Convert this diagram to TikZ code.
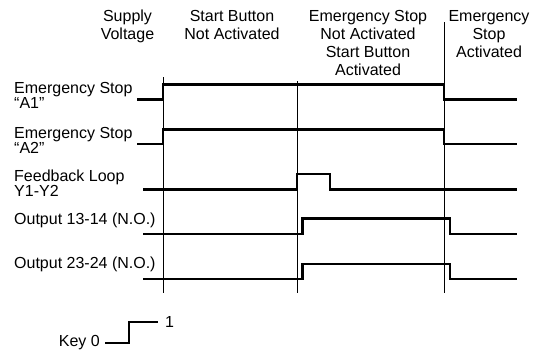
\documentclass[tikz,border=0pt]{standalone}
\usepackage{fontspec}
\setmainfont{Liberation Sans}
\begin{document}
\begin{tikzpicture}[x=1pt,y=-1pt,
  lbl/.style={inner sep=0pt, font=\fontsize{16}{15}\selectfont, align=left, anchor=north west},
  hdr/.style={inner sep=0pt, font=\fontsize{16}{18}\selectfont, align=center, anchor=north},
  txt/.style={inner sep=0pt, font=\fontsize{16}{18}\selectfont},
  sig/.style={line width=2.8pt, line join=miter, line cap=butt},
  gridline/.style={line width=0.8pt}]
\useasboundingbox (0,0) rectangle (543,349);

% header
\node[hdr] (h1) at (127.5,10) {Supply\\Voltage};
\node[hdr] (h2) at (232,10) {Start Button\\Not Activated};
\node[hdr] (h3) at (368,10) {Emergency Stop\\Not Activated\\Start Button\\Activated};
\node[hdr] (h4) at (489,10) {Emergency\\Stop\\Activated};

% row labels
\node[lbl] (l1) at (14,81.7) {Emergency Stop\\“A1”};
\node[lbl] (l2) at (14,126.7) {Emergency Stop\\“A2”};
\node[lbl] (l3) at (14,169.3) {Feedback Loop\\Y1-Y2};
\node[lbl] (l4) at (14,213) {Output 13-14 (N.O.)};
\node[lbl] (l5) at (14,256.7) {Output 23-24 (N.O.)};

% vertical time lines
\coordinate (v1t) at (163,77);   \coordinate (v1b) at (163,293);
\coordinate (v2t) at (297.5,81); \coordinate (v2b) at (297.5,293);
\coordinate (v3t) at (444,22);   \coordinate (v3b) at (444,293);
\draw[gridline] (v1t) -- (v1b);
\draw[gridline] (v2t) -- (v2b);
\draw[gridline] (v3t) -- (v3b);

% signals
\draw[sig] (137,99.3) -- (163,99.3) -- (163,84.7) -- (444,84.7) -- (444,99.3) -- (517,99.3);
\draw[sig] (137,144) -- (163,144) -- (163,129.3) -- (444,129.3) -- (444,144) -- (517,144);
\draw[sig] (143,189.5) -- (297,189.5) -- (297,174) -- (330,174) -- (330,189.5) -- (517,189.5);
\draw[sig] (143,234) -- (302.5,234) -- (302.5,218.7) -- (450,218.7) -- (450,234) -- (517,234);
\draw[sig] (143,279) -- (302.5,279) -- (302.5,264) -- (450,264) -- (450,279) -- (517,279);

% key
\node[txt, anchor=base east] (k0) at (100,346.5) {Key 0};
\node[txt, anchor=base west] (k1) at (165,327) {1};
\coordinate (ka) at (105,343);
\coordinate (kb) at (158,322);
\draw[sig] (ka) -- (129,343) -- (129,322) -- (kb);
\end{tikzpicture}
\end{document}
